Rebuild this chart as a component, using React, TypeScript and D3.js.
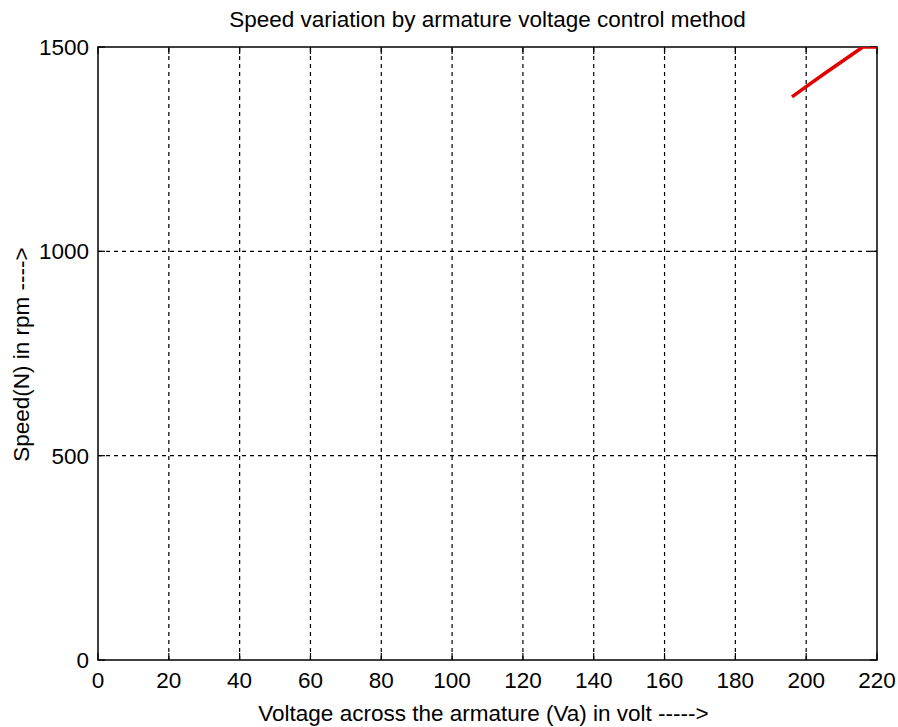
import React from "react";
import * as d3 from "d3";

const voltage = [196, 200, 205, 210, 216, 220];
const speed = [1378, 1403, 1434, 1464, 1500, 1500];
const xTicks = [0, 20, 40, 60, 80, 100, 120, 140, 160, 180, 200, 220];
const yTicks = [0, 500, 1000, 1500];
const title = "Speed variation by armature voltage control method";
const xLabel = "Voltage across the armature (Va) in volt ----->";
const yLabel = "Speed(N) in rpm ---->";

const W = 898, H = 727;
const m = { left: 98, right: 21, top: 47, bottom: 67 };
const font = "'Liberation Sans', Arial, sans-serif";
const fs = 22.5;

export default function App() {
  const x = d3.scaleLinear().domain([0, 220]).range([m.left, W - m.right]);
  const y = d3.scaleLinear().domain([0, 1500]).range([H - m.bottom, m.top]);
  const line = d3.line<number>().x((_, i) => x(voltage[i])).y((d) => y(d));
  const x0 = x(0), x1 = x(220), y0 = y(0), y1 = y(1500);
  return (
    <svg width={W} height={H} style={{ position: "absolute", left: 0, top: 0, background: "#fff" }}>
      <rect x={0} y={0} width={W} height={H} fill="#fff" />
      <defs>
        <clipPath id="plot"><rect x={x0} y={y1} width={x1 - x0} height={y0 - y1} /></clipPath>
      </defs>
      {xTicks.slice(1, -1).map((t) => (
        <line key={"gx" + t} x1={x(t)} x2={x(t)} y1={y0} y2={y1} stroke="#000" strokeWidth={1.2} strokeDasharray="4,4" />
      ))}
      {yTicks.slice(1, -1).map((t) => (
        <line key={"gy" + t} x1={x0} x2={x1} y1={y(t)} y2={y(t)} stroke="#000" strokeWidth={1.2} strokeDasharray="4,4" />
      ))}
      {xTicks.map((t) => (
        <g key={"tx" + t}>
          <line x1={x(t)} x2={x(t)} y1={y0} y2={y0 - 7} stroke="#000" strokeWidth={1.2} />
          <line x1={x(t)} x2={x(t)} y1={y1} y2={y1 + 7} stroke="#000" strokeWidth={1.2} />
          <text x={x(t)} y={y0 + 28} textAnchor="middle" fontFamily={font} fontSize={fs} fill="#000">{t}</text>
        </g>
      ))}
      {yTicks.map((t) => (
        <g key={"ty" + t}>
          <line x1={x0} x2={x0 + 7} y1={y(t)} y2={y(t)} stroke="#000" strokeWidth={1.2} />
          <line x1={x1} x2={x1 - 7} y1={y(t)} y2={y(t)} stroke="#000" strokeWidth={1.2} />
          <text x={x0 - 9} y={y(t) + 8} textAnchor="end" fontFamily={font} fontSize={fs} fill="#000">{t}</text>
        </g>
      ))}
      <rect x={x0} y={y1} width={x1 - x0} height={y0 - y1} fill="none" stroke="#000" strokeWidth={1.5} />
      <path d={line(speed) || ""} fill="none" stroke="#e00000" strokeWidth={3.5} clipPath="url(#plot)" />
      <text x={(x0 + x1) / 2} y={27} textAnchor="middle" fontFamily={font} fontSize={fs} fill="#000">{title}</text>
      <text x={(x0 + x1) / 2 - 4} y={721} textAnchor="middle" fontFamily={font} fontSize={fs} fill="#000">{xLabel}</text>
      <text transform={`translate(29, ${(y0 + y1) / 2 + 1}) rotate(-90)`} textAnchor="middle" fontFamily={font} fontSize={fs} fill="#000">{yLabel}</text>
    </svg>
  );
}
